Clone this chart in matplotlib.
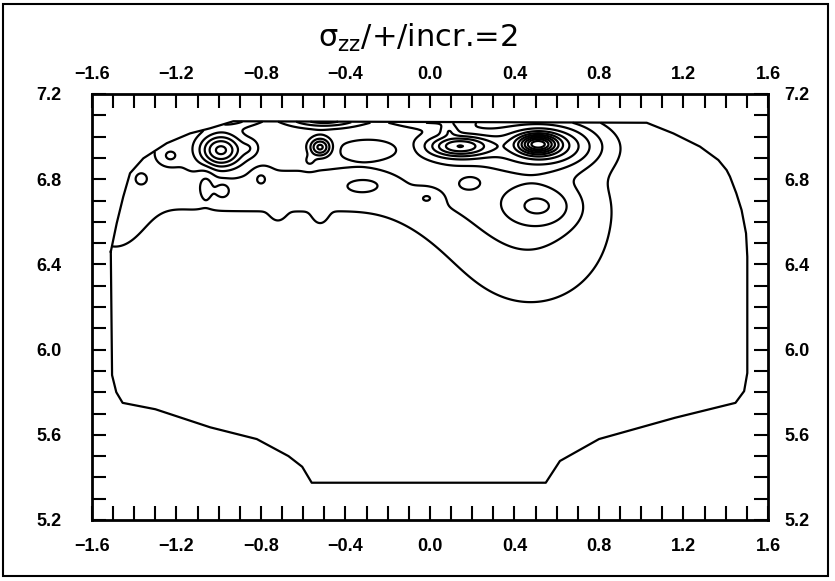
import numpy as np
import matplotlib.pyplot as plt
from matplotlib.path import Path
from matplotlib.patches import Rectangle

# outline of the section
edge_x = [-1.511, -1.505, -1.485, -1.455, -1.30, -1.04, -0.82, -0.67, -0.605, -0.56,
          0.548, 0.615, 0.80, 1.16, 1.446, 1.487, 1.502, 1.502, 1.496, 1.475, 1.45,
          1.42, 1.404, 1.365, 1.278, 1.152, 1.026, -0.931, -1.041, -1.136, -1.246,
          -1.357, -1.42, -1.452, -1.483, -1.511]
edge_y = [6.46, 5.88, 5.80, 5.75, 5.72, 5.635, 5.58, 5.50, 5.45, 5.375,
          5.375, 5.477, 5.58, 5.68, 5.75, 5.805, 5.89, 6.436, 6.546, 6.655, 6.734,
          6.812, 6.843, 6.89, 6.953, 7.015, 7.065, 7.072, 7.039, 7.015, 6.969,
          6.898, 6.828, 6.718, 6.593, 6.46]

# stress peaks / dips: centre, spread, height
bump_x = [-1.25, -0.75, -0.25, 0.10, -1.5, 0.48, 0.52, 0.55, 0.51, 0.14, 0.09,
          -0.52, -0.99, -0.5, -0.95, 0.0,
          -0.315, -0.01, 0.19, -0.80, -0.98, -1.06, -0.28,
          -1.23, -0.85, -0.57, -1.365, -0.72, -0.52]
bump_y = [6.99, 6.99, 6.99, 6.99, 6.65, 6.62, 6.675, 6.96, 6.965, 6.955, 7.03,
          6.95, 6.935, 7.09, 7.09, 7.09,
          6.775, 6.715, 6.785, 6.805, 6.753, 6.785, 6.94,
          6.91, 6.945, 6.885, 6.80, 6.66, 6.64]
bump_sx = [0.30, 0.33, 0.33, 0.20, 0.12, 0.30, 0.12, 0.17, 0.06, 0.10, 0.03,
           0.035, 0.07, 0.12, 0.10, 0.15,
           0.08, 0.045, 0.05, 0.03, 0.025, 0.03, 0.10,
           0.03, 0.03, 0.02, 0.015, 0.025, 0.025]
bump_sy = [0.26, 0.26, 0.26, 0.26, 0.18, 0.32, 0.07, 0.075, 0.03, 0.035, 0.02,
           0.03, 0.055, 0.03, 0.03, 0.03,
           0.03, 0.03, 0.03, 0.03, 0.025, 0.05, 0.03,
           0.025, 0.03, 0.02, 0.015, 0.04, 0.04]
bump_amp = [3.1, 3.0, 3.0, 2.8, 2.5, 4.3, 4.0, 9.0, 12.0, 10.0, 3.0,
            8.0, 10.0, 8.0, 5.0, 4.0,
            -2.0, -2.0, -2.0, -2.0, -2.0, -2.0, -2.0,
            2.5, 2.0, 2.0, 2.0, 1.0, 1.0]

levels = np.arange(2, 42, 2)  # incr.=2

x_ticks = [-1.6, -1.2, -0.8, -0.4, 0.0, 0.4, 0.8, 1.2, 1.6]
x_labels = ['−1.6', '−1.2', '−0.8', '−0.4', '0.0', '0.4', '0.8', '1.2', '1.6']
y_ticks = [5.2, 5.6, 6.0, 6.4, 6.8, 7.2]
y_labels = ['5.2', '5.6', '6.0', '6.4', '6.8', '7.2']

plt.rcParams['font.family'] = ['Liberation Sans', 'DejaVu Sans']
plt.rcParams['font.weight'] = 'bold'

# field on a grid, cut to the section
gx = np.linspace(-1.6, 1.6, 641)
gy = np.linspace(5.2, 7.2, 401)
X, Y = np.meshgrid(gx, gy)
Z = np.zeros_like(X)
for cx, cy, sx, sy, a in zip(bump_x, bump_y, bump_sx, bump_sy, bump_amp):
    Z += a * np.exp(-0.5 * (((X - cx) / sx) ** 2 + ((Y - cy) / sy) ** 2))
inside = Path(np.column_stack([edge_x, edge_y])).contains_points(
    np.column_stack([X.ravel(), Y.ravel()])).reshape(X.shape)
Z = np.ma.masked_where(~inside, Z)

fig = plt.figure(figsize=(8.35, 5.81), dpi=100)
ax = fig.add_axes([92 / 835, 1 - 520 / 581, 676 / 835, 426 / 581])

ax.contour(X, Y, Z, levels=levels, colors='k', linewidths=1.6)
ax.plot(edge_x, edge_y, color='k', lw=1.6)

ax.set_xlim(-1.6, 1.6)
ax.set_ylim(5.2, 7.2)
ax.set_xticks(x_ticks)
ax.set_xticklabels(x_labels)
ax.set_yticks(y_ticks)
ax.set_yticklabels(y_labels)
ax.set_xticks(np.arange(-1.6, 1.65, 0.1), minor=True)
ax.set_yticks(np.arange(5.2, 7.25, 0.1), minor=True)
ax.tick_params(which='both', direction='in', length=10, width=1.5,
               top=True, right=True, labelsize=13)
ax.tick_params(axis='x', pad=13)
ax.tick_params(axis='y', pad=22)
for s in ax.spines.values():
    s.set_linewidth(2)

# labels on top and right
axt = ax.secondary_xaxis('top')
axt.set_xticks(x_ticks)
axt.set_xticklabels(x_labels)
axt.tick_params(length=0, pad=8, labelsize=13)
axr = ax.secondary_yaxis('right')
axr.set_yticks(y_ticks)
axr.set_yticklabels(y_labels)
axr.tick_params(length=0, pad=12, labelsize=13)
for s in list(axt.spines.values()) + list(axr.spines.values()):
    s.set_visible(False)

fig.text(0.50, 0.935, 'σ$_{\\mathregular{zz}}$/+/incr.=2', ha='center', va='center',
         fontsize=22, fontweight='normal', family='DejaVu Sans')

# frame round the whole figure
fig.patches.append(Rectangle((0.004, 0.008), 0.988, 0.985, transform=fig.transFigure,
                             fill=False, ec='k', lw=1.5))

fig.savefig('out.png', dpi=100)
